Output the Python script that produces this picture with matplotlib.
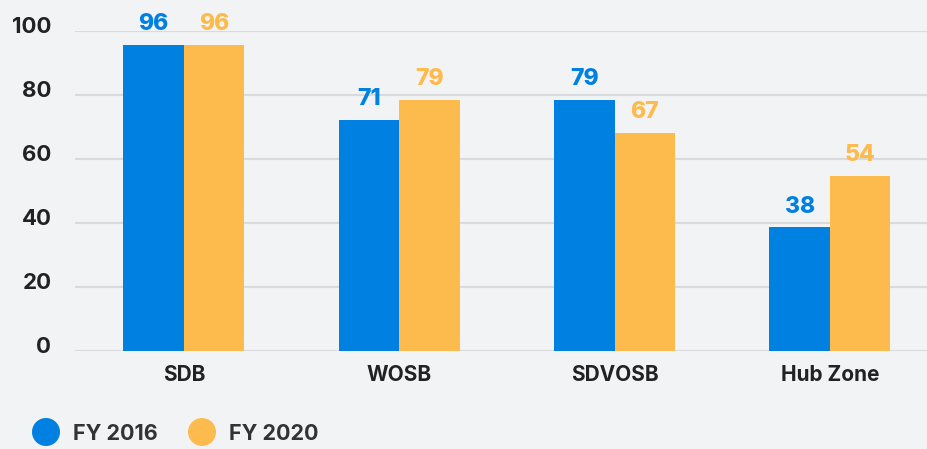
import matplotlib
matplotlib.use("Agg")
import matplotlib.pyplot as plt
from matplotlib.patches import Circle
import matplotlib.transforms as mtransforms
import numpy as np

categories = ["SDB", "WOSB", "SDVOSB", "Hub Zone"]
# bar heights as drawn
fy2016 = [95.6, 72.2, 78.4, 38.6]
fy2020 = [95.6, 78.4, 68.2, 54.8]
# values as labelled
fy2016_labels = ["96", "71", "79", "38"]
fy2020_labels = ["96", "79", "67", "54"]
series_names = ["FY 2016", "FY 2020"]
yticks = [0, 20, 40, 60, 80, 100]

BLUE = "#0080E0"
ORANGE = "#FDBA4D"
BG = "#F2F3F5"
GRID = "#D9DADD"
TEXT = "#222222"

plt.rcParams['font.family'] = ['Inter', 'DejaVu Sans']

fig = plt.figure(figsize=(9.28, 4.49), dpi=100, facecolor=BG)
ax = fig.add_axes([75/928, 1-351/449, 1-75/928, (351-31)/449])
ax.set_facecolor(BG)

x = np.arange(len(categories))
w = 0.281
b1 = ax.bar(x - w/2, fy2016, width=w, color=BLUE, zorder=3)
b2 = ax.bar(x + w/2, fy2020, width=w, color=ORANGE, zorder=3)

for bars, labs, col in ((b1, fy2016_labels, BLUE), (b2, fy2020_labels, ORANGE)):
    for r, t in zip(bars, labs):
        ax.annotate(t, (r.get_x() + r.get_width()/2, r.get_height()), xytext=(0, 7),
                    textcoords='offset points', ha='center', va='bottom',
                    color=col, fontsize=16.5, fontweight='heavy', annotation_clip=False)

ax.set_xlim(-0.506, 3.456)
ax.set_ylim(0, 100)
ax.set_yticks(yticks)
ax.set_yticklabels([str(t) for t in yticks])
ax.yaxis.grid(True, color=GRID, linewidth=1.5, zorder=0)
ax.set_axisbelow(True)
for s in ax.spines.values():
    s.set_visible(False)
ax.tick_params(axis='y', length=0, pad=17, labelsize=16, labelcolor=TEXT)
ax.tick_params(axis='x', length=0, pad=10, labelsize=15, labelcolor=TEXT)
for lab in ax.get_yticklabels():
    lab.set_fontweight('bold')
    lab.set_transform(lab.get_transform() + mtransforms.ScaledTranslation(0, 6/100, fig.dpi_scale_trans))
ax.set_xticks(x)
ax.set_xticklabels(categories, fontweight='bold')

# legend drawn in pixel coordinates
lax = fig.add_axes([0, 0, 1, 1], facecolor='none')
lax.set_xlim(0, 928)
lax.set_ylim(449, 0)
lax.set_axis_off()
leg_x = [46, 202]
for cx, name, col in zip(leg_x, series_names, (BLUE, ORANGE)):
    lax.add_patch(Circle((cx, 432), 14, color=col, lw=0))
    lax.text(cx + 27, 432, name, ha='left', va='center_baseline', fontsize=15.5,
             fontweight='bold', color="#333333")

fig.savefig("out.png", dpi=100, facecolor=BG)
